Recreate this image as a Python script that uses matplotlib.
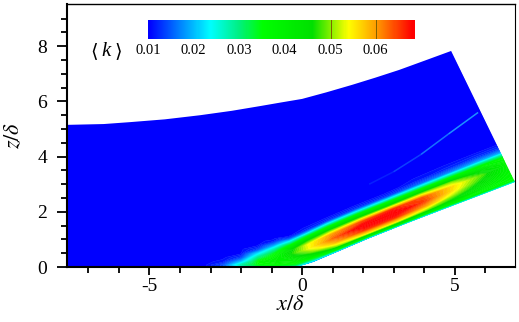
import matplotlib
matplotlib.use("Agg")
import matplotlib.pyplot as plt
import numpy as np
from matplotlib.colors import LinearSegmentedColormap
from matplotlib.patches import Polygon

# wall stations of the ramp and the direction the mesh lines lean at each
wall_x = [-7.72, -3.2, -2.6, -2.0, -1.4, -0.8, -0.2, 0.4, 1.2, 2.2, 3.2, 4.2, 5.2, 6.2, 6.98]
wall_z = [0, 0, 0, 0, 0, 0, 0, 0.2, 0.57, 1.04, 1.48, 1.91, 2.33, 2.75, 3.08]
lean_deg = [0, 0, 0, 2, 5, 9, 13, 17, 21, 23.8, 23.8, 23.8, 23.8, 23.8, 23.8]
wall_dist = [0, 0.08, 0.2, 0.35, 0.5, 0.65, 0.8, 0.95, 1.05, 1.15, 1.3, 1.5, 9]

# one list per station, low to high wall distance
k_table = [
    [0.010, 0.010, 0.010, 0.010, 0.010, 0.010, 0.010, 0.010, 0.010, 0.010, 0.010, 0.010, 0.010],
    [0.010, 0.010, 0.010, 0.010, 0.010, 0.010, 0.010, 0.010, 0.010, 0.010, 0.010, 0.010, 0.010],
    [0.014, 0.014, 0.011, 0.010, 0.010, 0.010, 0.010, 0.010, 0.010, 0.010, 0.010, 0.010, 0.010],
    [0.024, 0.028, 0.020, 0.013, 0.010, 0.010, 0.010, 0.010, 0.010, 0.010, 0.010, 0.010, 0.010],
    [0.030, 0.035, 0.036, 0.030, 0.022, 0.013, 0.010, 0.010, 0.010, 0.010, 0.010, 0.010, 0.010],
    [0.025, 0.036, 0.039, 0.038, 0.035, 0.028, 0.018, 0.011, 0.010, 0.010, 0.010, 0.010, 0.010],
    [0.022, 0.033, 0.038, 0.043, 0.047, 0.045, 0.036, 0.023, 0.014, 0.010, 0.010, 0.010, 0.010],
    [0.018, 0.030, 0.040, 0.049, 0.054, 0.054, 0.045, 0.032, 0.020, 0.012, 0.010, 0.010, 0.010],
    [0.018, 0.035, 0.050, 0.059, 0.063, 0.060, 0.048, 0.035, 0.024, 0.013, 0.010, 0.010, 0.010],
    [0.018, 0.037, 0.055, 0.066, 0.070, 0.064, 0.048, 0.035, 0.023, 0.013, 0.010, 0.010, 0.010],
    [0.020, 0.038, 0.055, 0.066, 0.071, 0.066, 0.048, 0.035, 0.023, 0.013, 0.010, 0.010, 0.010],
    [0.020, 0.037, 0.050, 0.060, 0.065, 0.064, 0.050, 0.036, 0.025, 0.015, 0.011, 0.010, 0.010],
    [0.022, 0.036, 0.044, 0.050, 0.055, 0.056, 0.050, 0.037, 0.027, 0.017, 0.012, 0.010, 0.010],
    [0.022, 0.036, 0.039, 0.042, 0.045, 0.048, 0.044, 0.037, 0.029, 0.019, 0.013, 0.010, 0.010],
    [0.022, 0.035, 0.036, 0.037, 0.038, 0.038, 0.038, 0.036, 0.029, 0.019, 0.013, 0.010, 0.010],
]

# outline of the computed domain
top_x = [-7.72, -6.5, -5.63, -4.5, -3.34, -2.3, -1.38, -0.7, 0.0, 0.8, 1.64, 2.4, 3.18, 4.0, 4.89]
top_z = [5.15, 5.18, 5.25, 5.35, 5.5, 5.66, 5.83, 5.96, 6.09, 6.33, 6.6, 6.86, 7.14, 7.47, 7.83]
floor_x = [6.98, 3.54, 2.13, 0.69, 0.0, -7.72]
floor_z = [3.08, 1.63, 1.01, 0.33, 0.0, 0.0]

# faint streak above the layer
streak_x = [2.2, 3.0, 3.9, 4.8, 5.77]
streak_z = [3.0, 3.45, 4.08, 4.82, 5.6]
streak_alpha = [0.2, 0.4, 0.7, 0.9]

cbar_ticks = [0.01, 0.02, 0.03, 0.04, 0.05, 0.06]
cbar_lines = [0.05, 0.06]

k_nodes = [0.01, 0.0235, 0.03, 0.035, 0.046, 0.054, 0.06, 0.068, 0.07]
k_colors = ["#0000ff", "#00ffff", "#00f080", "#00ff00", "#00e000", "#ffff00",
            "#ffa000", "#ff0000", "#ff0000"]

plt.rcParams["font.family"] = ["Liberation Serif", "DejaVu Sans"]
plt.rcParams["mathtext.fontset"] = "stix"
plt.rcParams["axes.unicode_minus"] = False

cmap = LinearSegmentedColormap.from_list(
    "k", [(round((v - 0.01) / 0.06, 6), c) for v, c in zip(k_nodes, k_colors)])

fig = plt.figure(figsize=(5.19, 3.22), dpi=100)
W, H = 519, 322
ax = fig.add_axes([66.5 / W, (H - 267) / H, (515 - 66.5) / W, (267 - 4) / H])

theta = np.radians(lean_deg)
dist = np.array(wall_dist)
X = np.array(wall_x)[:, None] - np.sin(theta)[:, None] * dist[None, :]
Z = np.array(wall_z)[:, None] + np.cos(theta)[:, None] * dist[None, :]
# levels straddle 0.01 so the flat blue part stays one piece
levels = np.linspace(0.0095, 0.0715, 63)
cs = ax.contourf(X, Z, np.array(k_table), levels=levels, cmap=cmap, vmin=0.01, vmax=0.07,
                 antialiased=True)
cs.set_edgecolor("face")
cs.set_linewidth(0.3)
outline = Polygon(list(zip(top_x + floor_x, top_z + floor_z)), closed=True,
                  transform=ax.transData, fc="none", ec="none")
ax.add_patch(outline)
cs.set_clip_path(outline)

# streak fades out towards the lower end
for i, a in enumerate(streak_alpha):
    ax.plot(streak_x[i:i + 2], streak_z[i:i + 2], color="#20a0ff", lw=1.1, alpha=a, zorder=3,
            solid_capstyle="butt")

ax.set_xlim(-7.72, 6.98)
ax.set_ylim(0, 9.53)
ax.set_xticks([-5, 0, 5])
ax.set_xticks([-7, -6, -4, -3, -2, -1, 1, 2, 3, 4, 6], minor=True)
ax.set_yticks([0, 2, 4, 6, 8])
ax.set_yticks(np.arange(0, 9.5, 0.5), minor=True)
ax.tick_params(axis="x", which="major", length=6, width=1.3, labelsize=14, pad=2)
ax.tick_params(axis="y", which="major", length=7, width=1.3, labelsize=14, pad=7)
ax.tick_params(which="minor", length=4.5, width=1.3)
ax.spines["left"].set_linewidth(1.5)
ax.spines["bottom"].set_linewidth(1.5)
ax.spines["top"].set_linewidth(1.0)
ax.spines["right"].set_linewidth(0.8)
ax.set_xlabel("$\\mathit{x}/\\mathit{\\delta}$", fontsize=16, labelpad=1)
ax.set_ylabel("$\\mathit{z}/\\mathit{\\delta}$", fontsize=16, labelpad=9)

# colour bar sits inside the plot area
cax = fig.add_axes([148 / W, (H - 39) / H, (415 - 148) / W, 19 / H])
gradient = np.linspace(0.01, 0.0685, 256)[None, :]
cax.imshow(gradient, aspect="auto", cmap=cmap, vmin=0.01, vmax=0.07,
           extent=[0.01, 0.0685, 0, 1])
for v in cbar_lines:
    cax.axvline(v, color="#806000", lw=0.7)
cax.axis("off")
for v in cbar_ticks:
    fig.text((148 + (v - 0.01) / 0.01 * 45.5) / W, (H - 51) / H, f"{v:.2f}",
             ha="center", va="center", fontsize=10.5)
fig.text(94 / W, (H - 52) / H, "\u27e8", ha="center", va="center", fontsize=14)
fig.text(106 / W, (H - 52) / H, "k", style="italic", ha="center", va="center", fontsize=15)
fig.text(118 / W, (H - 52) / H, "\u27e9", ha="center", va="center", fontsize=14)

fig.savefig("out.png", dpi=100)
plt.close(fig)
